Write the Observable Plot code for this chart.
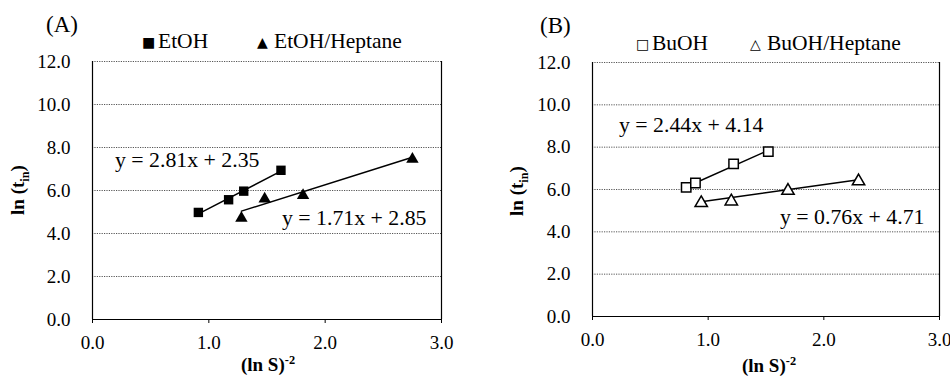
<!DOCTYPE html>
<html>
<head>
<meta charset="utf-8">
<script src="https://cdn.jsdelivr.net/npm/d3@7"></script>
<script src="https://cdn.jsdelivr.net/npm/@observablehq/plot@0.6"></script>
<style>
  html, body { margin: 0; padding: 0; background: #fff; }
  #wrap { position: relative; width: 950px; height: 377px; overflow: hidden; font-family: "Liberation Serif", serif; color: #000; }
  .panel { position: absolute; top: 0; width: 475px; height: 377px; }
  .t { position: absolute; white-space: nowrap; transform: translateY(-50%); line-height: 1; }
  .c { position: absolute; white-space: nowrap; transform: translate(-50%, -50%); line-height: 1; font-weight: bold; }
  .r { position: absolute; white-space: nowrap; transform: translate(-50%, -50%) rotate(-90deg); line-height: 1; font-weight: bold; }
  .sym { font-family: "DejaVu Sans", sans-serif; }
  sub, sup { font-size: 0.65em; }
</style>
</head>
<body>
<div id="wrap"></div>
<script>
// ---------- data ----------
const xTicks = [0, 1, 2, 3];
const yTicks = [0, 2, 4, 6, 8, 10, 12];

// Panel A
const etohX = [0.91, 1.17, 1.30, 1.62];
const etohY = [4.98, 5.57, 5.97, 6.94];
const etohHepX = [1.28, 1.48, 1.81, 2.75];
const etohHepY = [4.71, 5.61, 5.77, 7.46];
const etohTrendX = [0.91, 1.62];
const etohTrendY = [4.91, 6.90];
const etohHepTrendX = [1.28, 2.75];
const etohHepTrendY = [5.04, 7.55];

// Panel B
const buohX = [0.81, 0.89, 1.22, 1.52];
const buohY = [6.10, 6.31, 7.21, 7.79];
const buohHepX = [0.94, 1.20, 1.69, 2.30];
const buohHepY = [5.36, 5.44, 5.94, 6.39];
const buohTrendX = [0.81, 1.52];
const buohTrendY = [6.12, 7.85];
const buohHepTrendX = [0.94, 2.30];
const buohHepTrendY = [5.42, 6.46];

const zip = (xs, ys) => xs.map((x, i) => ({x, y: ys[i]}));
const fmt = d3.format(".1f");
const FONT = "Liberation Serif";

function panel(m, s1, s2, t1, t2, open) {
  return Plot.plot({
    width: 475, height: 377,
    marginLeft: m.l, marginRight: m.r, marginTop: m.t, marginBottom: m.b,
    x: {type: "linear", domain: [0, 3], axis: null},
    y: {type: "linear", domain: [0, 12], axis: null},
    style: {fontFamily: FONT, fontSize: "19px", color: "#000", background: "transparent", overflow: "visible"},
    marks: [
      Plot.ruleY(yTicks.filter(v => v > 0), {y: d => d, stroke: "#555", strokeWidth: 1, strokeDasharray: "1.2,1.2"}),
      Plot.ruleY([0], {y: d => d, stroke: "#000", strokeWidth: 1.2}),
      Plot.ruleX([0, 3], {x: d => d, stroke: "#000", strokeWidth: 1.2}),
      Plot.ruleX(xTicks, {x: d => d, y1: 0, y2: 0, insetTop: 4, stroke: "#000", strokeWidth: 1}),
      Plot.text(xTicks, {x: d => d, frameAnchor: "bottom", text: d => fmt(d), dy: 23,
        fontSize: 19, fontFamily: FONT, fill: "#000", lineAnchor: "middle"}),
      Plot.text(yTicks, {y: d => d, frameAnchor: "left", text: d => fmt(d), dx: -22, textAnchor: "end",
        fontSize: 19, fontFamily: FONT, fill: "#000"}),
      Plot.line(t1, {x: "x", y: "y", stroke: "#000", strokeWidth: 1.5}),
      Plot.line(t2, {x: "x", y: "y", stroke: "#000", strokeWidth: 1.5}),
      Plot.dot(s1, {x: "x", y: "y", symbol: "square", r: 5.3,
        fill: open ? "#fff" : "#000", stroke: "#000", strokeWidth: open ? 1.5 : 0}),
      Plot.dot(s2, {x: "x", y: "y", symbol: "triangle", r: 4.6,
        fill: open ? "#fff" : "#000", stroke: "#000", strokeWidth: open ? 1.5 : 0})
    ]
  });
}

const wrap = document.getElementById("wrap");

const pA = document.createElement("div");
pA.className = "panel"; pA.style.left = "0px";
pA.appendChild(panel({l: 92, r: 34, t: 61, b: 58},
  zip(etohX, etohY), zip(etohHepX, etohHepY),
  zip(etohTrendX, etohTrendY), zip(etohHepTrendX, etohHepTrendY), false));
wrap.appendChild(pA);

const pB = document.createElement("div");
pB.className = "panel"; pB.style.left = "475px";
pB.appendChild(panel({l: 117, r: 11, t: 62, b: 61},
  zip(buohX, buohY), zip(buohHepX, buohHepY),
  zip(buohTrendX, buohTrendY), zip(buohHepTrendX, buohHepTrendY), true));
wrap.appendChild(pB);

function addText(cls, x, y, size, html) {
  const d = document.createElement("div");
  d.className = cls;
  d.style.left = x + "px"; d.style.top = y + "px"; d.style.fontSize = size + "px";
  d.innerHTML = html;
  wrap.appendChild(d);
}

// Panel A texts
addText("t", 46, 24, 23, "(A)");
addText("t", 142, 42, 14, '<span class="sym">■</span>');
addText("t", 158, 42, 21.5, "EtOH");
addText("t", 257, 42, 14, '<span class="sym">▲</span>');
addText("t", 274, 42, 21.5, "EtOH/Heptane");
addText("t", 115, 161, 21.8, "y = 2.81x + 2.35");
addText("t", 282, 219, 21.8, "y = 1.71x + 2.85");
addText("r", 20, 190, 19, "ln (t<sub>in</sub>)");
addText("c", 268, 364, 19, "(ln S)<sup>-2</sup>");

// Panel B texts
addText("t", 540, 25, 23, "(B)");
addText("t", 636, 44, 14, '<span class="sym">□</span>');
addText("t", 652, 44, 21.5, "BuOH");
addText("t", 750, 44, 14, '<span class="sym">△</span>');
addText("t", 767, 44, 21.5, "BuOH/Heptane");
addText("t", 619, 126, 21.8, "y = 2.44x + 4.14");
addText("t", 780, 218, 21.8, "y = 0.76x + 4.71");
addText("r", 519, 191, 19, "ln (t<sub>in</sub>)");
addText("c", 769, 365, 19, "(ln S)<sup>-2</sup>");
</script>
</body>
</html>
